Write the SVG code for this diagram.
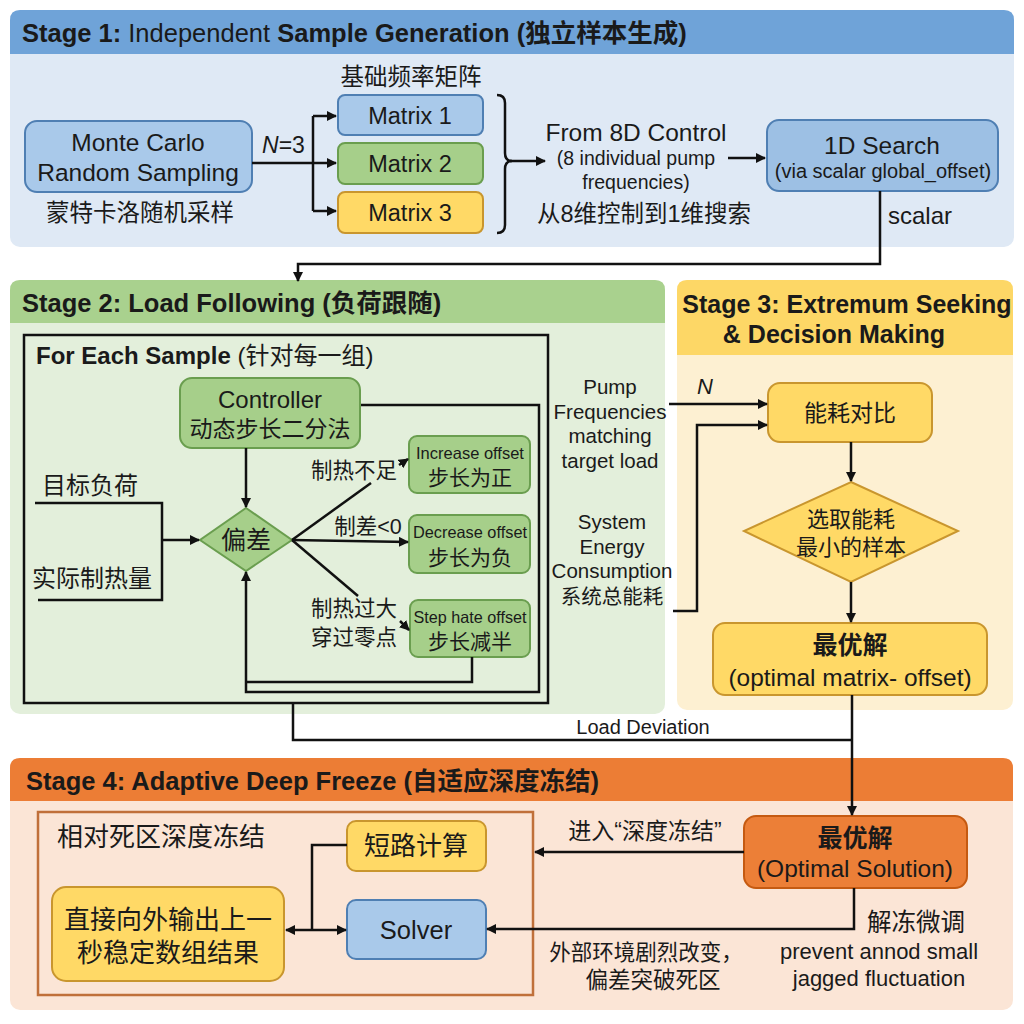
<svg xmlns="http://www.w3.org/2000/svg" width="1024" height="1024" viewBox="0 0 1024 1024">
<defs>
<marker id="ah" viewBox="0 0 10 10" refX="9" refY="5" markerWidth="10" markerHeight="10" markerUnits="userSpaceOnUse" orient="auto-start-reverse"><path d="M0,0 L10,5 L0,10 Z" fill="#111"/></marker>
<style>
text{font-family:"Liberation Sans","Noto Sans CJK SC",sans-serif;fill:#1a1a1a}
.t{font-size:25.5px;font-weight:bold}
.c{text-anchor:middle}
.ln{fill:none;stroke:#111;stroke-width:2.5}
.blue{fill:#a9c9ea;stroke:#4f7fb3;stroke-width:2}
.green{fill:#a6cf8a;stroke:#6a9e4f;stroke-width:2}
.yel{fill:#ffd966;stroke:#c9962e;stroke-width:2}
.org{fill:#ec7f37;stroke:#c55a11;stroke-width:2}
</style>
</defs>
<rect width="1024" height="1024" fill="#fff"/>
<!-- panels -->
<g id="stage1">
<rect x="10" y="10" width="1004" height="237" rx="10" fill="#dfe9f5"/>
<path d="M10,54 V20 Q10,10 20,10 H1004 Q1014,10 1014,20 V54 Z" fill="#6fa3d8"/>
<text x="22" y="42" class="t">Stage 1:<tspan font-weight="normal"> Independent </tspan>Sample Generation (独立样本生成)</text>
</g>
<g id="stage2">
<rect x="10" y="280" width="655" height="434" rx="10" fill="#e3efdb"/>
<path d="M10,323 V290 Q10,280 20,280 H655 Q665,280 665,290 V323 Z" fill="#a9d18e"/>
<text x="22" y="312" class="t">Stage 2: Load Following (负荷跟随)</text>
<rect x="24" y="335" width="524" height="368" fill="none" stroke="#111" stroke-width="2.5"/>
<text x="36" y="364" font-size="24"><tspan font-weight="bold">For Each Sample</tspan> (针对每一组)</text>
</g>
<g id="stage3">
<rect x="677" y="280" width="336" height="430" rx="10" fill="#fdf0d2"/>
<path d="M677,355 V290 Q677,280 687,280 H1003 Q1013,280 1013,290 V355 Z" fill="#fdd766"/>
<text x="847" y="313" class="c" font-size="25" font-weight="bold">Stage 3: Extremum Seeking</text>
<text x="834" y="343" class="c" font-size="25" font-weight="bold">&amp; Decision Making</text>
</g>
<g id="stage4">
<rect x="10" y="758" width="1003" height="252" rx="10" fill="#fbe5d6"/>
<path d="M10,801 V768 Q10,758 20,758 H1003 Q1013,758 1013,768 V801 Z" fill="#ec7d35"/>
<text x="26" y="790" class="t">Stage 4: Adaptive Deep Freeze (自适应深度冻结)</text>
<rect x="38" y="812" width="495" height="183" fill="none" stroke="#c0703a" stroke-width="2.5"/>
<text x="57" y="846" font-size="26">相对死区深度冻结</text>
</g>
<!-- nodes -->
<g id="montecarlo">
<rect x="25" y="121" width="227" height="71" rx="12" class="blue"/>
<text x="138" y="151" font-size="24.5" class="c">Monte Carlo</text>
<text x="138" y="181" font-size="24.5" class="c">Random Sampling</text>
<text x="140" y="221" font-size="23.5" class="c">蒙特卡洛随机采样</text>
</g>
<g id="matrices">
<text x="411" y="85" font-size="23.5" class="c">基础频率矩阵</text>
<rect x="338" y="95" width="145" height="40" rx="7" class="blue"/>
<text x="410" y="124" font-size="23.5" class="c">Matrix 1</text>
<rect x="338" y="143" width="145" height="41" rx="7" class="green"/>
<text x="410" y="172" font-size="23.5" class="c">Matrix 2</text>
<rect x="338" y="192" width="145" height="41" rx="7" class="yel"/>
<text x="410" y="221" font-size="23.5" class="c">Matrix 3</text>
</g>
<g id="from8d">
<text x="636" y="141" font-size="24.5" class="c">From 8D Control</text>
<text x="636" y="165" font-size="19.5" class="c">(8 individual pump</text>
<text x="636" y="189" font-size="19.5" class="c">frequencies)</text>
<text x="644" y="222" font-size="23.5" class="c">从8维控制到1维搜索</text>
</g>
<g id="search1d">
<rect x="767" y="120" width="231" height="71" rx="12" fill="#9dc0e4" stroke="#4f7fb3" stroke-width="2"/>
<text x="882" y="154" font-size="24.5" class="c">1D Search</text>
<text x="883" y="178" font-size="20" class="c">(via scalar global_offset)</text>
</g>
<g id="controller">
<rect x="180" y="378" width="180" height="70" rx="12" class="green"/>
<text x="270" y="408" font-size="24" class="c">Controller</text>
<text x="270" y="437" font-size="23" class="c">动态步长二分法</text>
</g>
<g id="deviation">
<polygon points="246,508 292,540 246,571 200,540" class="green"/>
<text x="246" y="549" font-size="25" class="c">偏差</text>
</g>
<g id="increase">
<rect x="409" y="436" width="121" height="57" rx="8" class="green"/>
<text x="470" y="459" font-size="16.5" class="c">Increase offset</text>
<text x="470" y="485" font-size="21" class="c">步长为正</text>
</g>
<g id="decrease">
<rect x="409" y="515" width="121" height="58" rx="8" class="green"/>
<text x="470" y="538" font-size="16.5" class="c" textLength="114" lengthAdjust="spacingAndGlyphs">Decrease offset</text>
<text x="470" y="565" font-size="21" class="c">步长为负</text>
</g>
<g id="stephalf">
<rect x="410" y="600" width="120" height="57" rx="8" class="green"/>
<text x="470" y="623" font-size="16.5" class="c" textLength="113" lengthAdjust="spacingAndGlyphs">Step hate offset</text>
<text x="470" y="649" font-size="21" class="c">步长减半</text>
</g>
<g id="energycmp">
<rect x="768" y="383" width="164" height="59" rx="12" class="yel"/>
<text x="850" y="421" font-size="23" class="c">能耗对比</text>
</g>
<g id="selectmin">
<polygon points="851,482 958,531 851,582 744,531" class="yel"/>
<text x="851" y="527" font-size="22" class="c">选取能耗</text>
<text x="851" y="555" font-size="22" class="c">最小的样本</text>
</g>
<g id="optimal3">
<rect x="713" y="623" width="274" height="72" rx="12" class="yel"/>
<text x="850" y="654" font-size="25" font-weight="bold" class="c">最优解</text>
<text x="850" y="686" font-size="24.5" class="c">(optimal matrix- offset)</text>
</g>
<g id="optimal4">
<rect x="744" y="816" width="223" height="72" rx="12" class="org"/>
<text x="855" y="847" font-size="25" font-weight="bold" class="c">最优解</text>
<text x="855" y="877" font-size="24.5" class="c">(Optimal Solution)</text>
</g>
<g id="shortcalc">
<rect x="347" y="821" width="139" height="50" rx="9" class="yel"/>
<text x="416" y="855" font-size="26" class="c">短路计算</text>
</g>
<g id="solver">
<rect x="347" y="900" width="139" height="59" rx="9" class="blue"/>
<text x="416" y="939" font-size="25.5" class="c">Solver</text>
</g>
<g id="output">
<rect x="52" y="887" width="232" height="94" rx="14" class="yel"/>
<text x="168" y="929" font-size="26" class="c">直接向外输出上一</text>
<text x="168" y="962" font-size="26" class="c">秒稳定数组结果</text>
</g>
<!-- labels -->
<g id="labels">
<text x="262" y="153" font-size="23"><tspan font-style="italic">N</tspan>=3</text>
<text x="888" y="224" font-size="24">scalar</text>
<text x="90" y="494" font-size="24" class="c">目标负荷</text>
<text x="92" y="587" font-size="24" class="c">实际制热量</text>
<text x="354" y="478" font-size="21.5" class="c">制热不足</text>
<text x="368" y="534" font-size="21.5" class="c">制差&lt;0</text>
<text x="354" y="616" font-size="21.5" class="c">制热过大</text>
<text x="354" y="645" font-size="21.5" class="c">穿过零点</text>
<text x="610" y="394" font-size="20.5" class="c">Pump</text>
<text x="610" y="419" font-size="20.5" class="c">Frequencies</text>
<text x="610" y="443" font-size="20.5" class="c">matching</text>
<text x="610" y="468" font-size="20.5" class="c">target load</text>
<text x="705" y="394" font-size="22" font-style="italic" class="c">N</text>
<text x="612" y="529" font-size="20.5" class="c">System</text>
<text x="612" y="554" font-size="20.5" class="c">Energy</text>
<text x="612" y="578" font-size="20.5" class="c">Consumption</text>
<text x="612" y="604" font-size="20.5" class="c">系统总能耗</text>
<text x="643" y="734" font-size="20" class="c">Load Deviation</text>
<text x="645" y="839" font-size="23" class="c">进入“深度冻结”</text>
<text x="646" y="960" font-size="21.5" class="c">外部环境剧烈改变，</text>
<text x="653" y="988" font-size="22.5" class="c">偏差突破死区</text>
<text x="916" y="931" font-size="24.5" class="c">解冻微调</text>
<text x="879" y="959" font-size="22" class="c">prevent annod small</text>
<text x="879" y="986" font-size="22" class="c">jagged fluctuation</text>
</g>
<!-- connectors -->
<g id="connectors">
<path class="ln" d="M252,163 H313"/>
<path class="ln" d="M313,116 V211"/>
<path class="ln" d="M313,116 H336" marker-end="url(#ah)"/>
<path class="ln" d="M313,163 H336" marker-end="url(#ah)"/>
<path class="ln" d="M313,211 H336" marker-end="url(#ah)"/>
<path class="ln" d="M497,95 Q505,95 505,103 V153 Q505,161 512,161 Q505,161 505,169 V225 Q505,233 497,233"/>
<path class="ln" d="M510,161 H545" marker-end="url(#ah)"/>
<path class="ln" d="M728,158 H765" marker-end="url(#ah)"/>
<path class="ln" d="M880,191 V264 H298 V281" marker-end="url(#ah)"/>
<path class="ln" d="M35,503 H162 V600 H38"/>
<path class="ln" d="M162,540 H199" marker-end="url(#ah)"/>
<path class="ln" d="M246,448 V507" marker-end="url(#ah)"/>
<path class="ln" d="M292,540 L371,483"/>
<path class="ln" d="M399,465 L408,459" marker-end="url(#ah)"/>
<path class="ln" d="M292,540 L408,542" marker-end="url(#ah)"/>
<path class="ln" d="M292,540 L358,596"/>
<path class="ln" d="M400,621 L409,630" marker-end="url(#ah)"/>
<path class="ln" d="M472,657 V682 H246"/>
<path class="ln" d="M361,405 H539 V692 H246 V572" marker-end="url(#ah)"/>
<path class="ln" d="M669,404 H767" marker-end="url(#ah)"/>
<path class="ln" d="M673,611 H697 V425 H767" marker-end="url(#ah)"/>
<path class="ln" d="M851,442 V481" marker-end="url(#ah)"/>
<path class="ln" d="M851,582 V622" marker-end="url(#ah)"/>
<path class="ln" d="M293,703 V740 H852"/>
<path class="ln" d="M852,695 V815" marker-end="url(#ah)"/>
<path class="ln" d="M744,852 H535" marker-end="url(#ah)"/>
<path class="ln" d="M854,888 V929 H487" marker-end="url(#ah)"/>
<path class="ln" d="M347,845 H312 V930"/>
<path class="ln" d="M286,930 H346" marker-start="url(#ah)" marker-end="url(#ah)"/>
</g>
</svg>
